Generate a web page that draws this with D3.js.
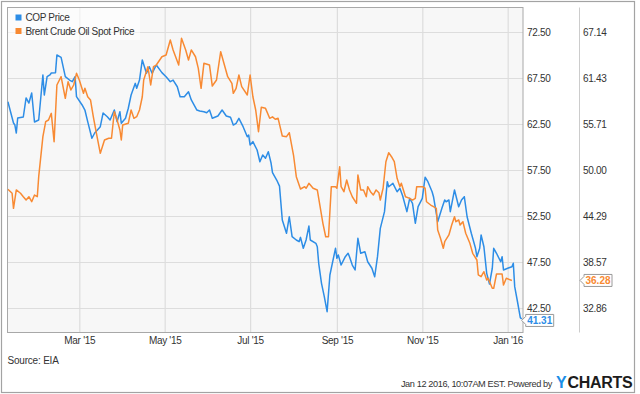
<!DOCTYPE html>
<html>
<head>
<meta charset="utf-8">
<script src="https://cdn.jsdelivr.net/npm/d3@7"></script>
<style>
  body { margin: 0; background: #fff; }
  svg { display: block; font-family: "Liberation Sans", Arial, sans-serif; }
</style>
</head>
<body>
<svg width="640" height="394"></svg>
<script>
// ConocoPhillips share price (left axis)
const copDates = [
  '2015-01-09','2015-01-13','2015-01-14','2015-01-15','2015-01-16','2015-01-20','2015-01-22','2015-01-24','2015-01-26','2015-01-28',
  '2015-01-31','2015-02-03','2015-02-04','2015-02-06','2015-02-08','2015-02-09','2015-02-12','2015-02-13','2015-02-16','2015-02-19',
  '2015-02-22','2015-02-24','2015-02-26','2015-02-27','2015-03-03','2015-03-05','2015-03-07','2015-03-10','2015-03-12','2015-03-16',
  '2015-03-18','2015-03-21','2015-03-23','2015-03-26','2015-03-28','2015-03-30','2015-03-31','2015-04-03','2015-04-05','2015-04-07',
  '2015-04-10','2015-04-11','2015-04-13','2015-04-15','2015-04-18','2015-04-20','2015-04-22','2015-04-25','2015-04-29','2015-05-02',
  '2015-05-05','2015-05-07','2015-05-10','2015-05-12','2015-05-15','2015-05-18','2015-05-20','2015-05-24','2015-05-26','2015-05-29',
  '2015-05-31','2015-06-02','2015-06-04','2015-06-08','2015-06-11','2015-06-14','2015-06-17','2015-06-19','2015-06-21','2015-06-23',
  '2015-06-26','2015-06-29','2015-06-30','2015-07-01','2015-07-03','2015-07-06','2015-07-08','2015-07-10','2015-07-12','2015-07-14',
  '2015-07-16','2015-07-17','2015-07-20','2015-07-22','2015-07-24','2015-07-27','2015-07-29','2015-07-31','2015-08-03','2015-08-05',
  '2015-08-06','2015-08-08','2015-08-10','2015-08-12','2015-08-13','2015-08-17','2015-08-18','2015-08-19','2015-08-21','2015-08-23',
  '2015-08-25','2015-08-27','2015-08-31','2015-09-01','2015-09-02','2015-09-04','2015-09-07','2015-09-09','2015-09-10','2015-09-12',
  '2015-09-14','2015-09-16','2015-09-18','2015-09-21','2015-09-23','2015-09-26','2015-09-28','2015-09-30','2015-10-02','2015-10-05',
  '2015-10-07','2015-10-08','2015-10-11','2015-10-14','2015-10-16','2015-10-18','2015-10-21','2015-10-23','2015-10-25','2015-10-27',
  '2015-10-29','2015-11-01','2015-11-03','2015-11-05','2015-11-08','2015-11-09','2015-11-12','2015-11-15','2015-11-17','2015-11-18',
  '2015-11-20','2015-11-21','2015-11-24','2015-11-27','2015-11-29','2015-12-01','2015-12-03','2015-12-06','2015-12-09','2015-12-10',
  '2015-12-12','2015-12-13','2015-12-15','2015-12-17','2015-12-19','2015-12-21','2015-12-22','2015-12-24','2015-12-27','2015-12-28',
  '2015-12-29','2016-01-01','2016-01-04','2016-01-05','2016-01-06','2016-01-08','2016-01-10','2016-01-11'
];
const copPrices = [
  64.92,62.61,62.39,61.52,63.15,63.26,65.33,64.78,65.87,62.72,
  62.93,67.83,65.65,67.64,67.83,68.04,68.08,70.00,69.75,67.64,
  67.28,67.10,67.64,65.47,64.57,64.02,62.75,60.95,61.52,62.21,
  63.70,63.29,62.93,64.02,62.75,63.84,62.58,63.12,64.21,65.65,
  66.92,66.38,67.28,69.46,68.01,68.73,68.01,68.91,68.08,67.64,
  67.10,67.28,66.55,65.47,65.47,66.01,65.11,64.02,63.91,63.84,
  63.73,64.02,63.12,63.37,64.02,63.37,63.23,62.39,62.58,63.12,
  62.21,61.12,61.30,60.22,60.58,59.67,58.40,59.13,58.77,59.49,
  58.23,57.21,56.41,55.75,52.07,50.62,52.42,50.25,49.89,49.71,
  50.18,48.99,49.89,51.41,49.89,49.53,49.16,47.36,45.18,43.73,
  42.10,46.09,48.99,47.90,48.26,47.17,48.08,48.45,48.08,47.17,
  46.63,50.08,48.45,48.62,47.53,46.82,45.90,48.08,51.16,52.97,
  56.23,55.68,56.05,55.14,55.51,54.67,52.97,54.42,53.88,51.71,
  53.51,54.42,56.71,56.23,55.14,54.60,51.88,53.34,54.24,54.05,
  54.24,52.97,55.33,53.51,54.24,54.60,52.42,50.62,48.99,48.08,
  48.99,50.43,49.16,46.27,45.11,46.82,48.99,48.45,47.53,48.08,
  46.63,46.82,46.99,47.36,44.82,43.18,41.45,41.31
];

// Brent crude spot price (right axis)
const brentDates = [
  '2015-01-09','2015-01-12','2015-01-13','2015-01-15','2015-01-18','2015-01-20','2015-01-22','2015-01-24','2015-01-26','2015-01-28',
  '2015-01-30','2015-01-31','2015-02-03','2015-02-05','2015-02-07','2015-02-09','2015-02-11','2015-02-13','2015-02-16','2015-02-19',
  '2015-02-21','2015-02-23','2015-02-25','2015-02-27','2015-03-01','2015-03-04','2015-03-05','2015-03-07','2015-03-09','2015-03-11',
  '2015-03-13','2015-03-16','2015-03-19','2015-03-22','2015-03-24','2015-03-26','2015-03-28','2015-03-30','2015-03-31','2015-04-01',
  '2015-04-05','2015-04-07','2015-04-09','2015-04-11','2015-04-13','2015-04-15','2015-04-16','2015-04-19','2015-04-21','2015-04-23',
  '2015-04-25','2015-04-29','2015-05-02','2015-05-05','2015-05-07','2015-05-11','2015-05-13','2015-05-16','2015-05-18','2015-05-20',
  '2015-05-23','2015-05-25','2015-05-27','2015-05-29','2015-06-02','2015-06-04','2015-06-07','2015-06-10','2015-06-12','2015-06-15',
  '2015-06-18','2015-06-19','2015-06-21','2015-06-23','2015-06-25','2015-06-29','2015-07-01','2015-07-03','2015-07-05','2015-07-07',
  '2015-07-09','2015-07-12','2015-07-15','2015-07-17','2015-07-19','2015-07-21','2015-07-24','2015-07-27','2015-07-29','2015-08-01',
  '2015-08-03','2015-08-06','2015-08-09','2015-08-10','2015-08-12','2015-08-15','2015-08-18','2015-08-20','2015-08-22','2015-08-24',
  '2015-08-26','2015-08-28','2015-08-31','2015-09-01','2015-09-03','2015-09-04','2015-09-06','2015-09-08','2015-09-10','2015-09-12',
  '2015-09-15','2015-09-16','2015-09-18','2015-09-20','2015-09-22','2015-09-23','2015-09-25','2015-09-27','2015-09-29','2015-10-01',
  '2015-10-02','2015-10-04','2015-10-06','2015-10-08','2015-10-10','2015-10-12','2015-10-14','2015-10-16','2015-10-17','2015-10-20',
  '2015-10-23','2015-10-25','2015-10-27','2015-10-28','2015-11-01','2015-11-03','2015-11-04','2015-11-07','2015-11-09','2015-11-11',
  '2015-11-12','2015-11-14','2015-11-16','2015-11-17','2015-11-20','2015-11-22','2015-11-24','2015-11-25','2015-11-27','2015-11-28',
  '2015-11-30','2015-12-02','2015-12-05','2015-12-07','2015-12-10','2015-12-11','2015-12-13','2015-12-15','2015-12-17','2015-12-18',
  '2015-12-21','2015-12-22','2015-12-24','2015-12-28','2015-12-29','2015-12-31','2016-01-04'
];
const brentPrices = [
  47.60,47.11,45.24,47.52,47.11,46.68,46.27,46.68,46.06,46.89,
  46.68,49.17,54.14,56.00,56.21,57.04,53.52,60.56,61.59,58.91,
  60.97,59.94,60.56,62.01,61.18,59.53,60.15,59.10,58.70,56.62,
  54.76,52.07,53.73,53.94,53.94,57.24,56.21,54.97,53.73,55.59,
  55.80,57.45,56.42,56.62,57.45,59.10,61.18,62.83,60.56,62.83,
  63.04,64.07,64.28,66.15,64.91,63.04,66.36,64.91,63.66,64.91,
  64.07,62.63,60.15,63.25,63.04,60.43,61.18,64.70,63.45,61.59,
  60.77,59.53,60.15,61.80,60.35,59.32,61.80,59.10,57.45,54.76,
  57.79,57.66,56.42,56.60,56.30,56.42,54.22,54.14,54.63,51.86,
  49.17,47.64,47.93,47.73,48.35,47.73,47.52,45.44,43.38,41.71,
  41.71,47.93,47.93,47.73,50.41,47.93,47.30,48.76,47.52,46.68,
  45.86,49.38,47.52,47.52,46.68,47.93,47.30,46.89,47.52,47.18,
  46.27,47.73,51.03,52.15,51.65,51.03,48.97,47.93,48.35,46.68,
  46.48,46.27,46.48,47.93,47.93,47.73,46.06,45.65,45.44,45.24,
  42.55,41.52,40.27,41.09,41.93,43.17,44.20,43.58,43.79,43.17,
  43.58,42.14,40.89,39.65,38.82,36.96,36.75,37.37,36.34,36.55,
  35.30,35.30,37.08,37.08,35.71,36.55,36.28
];

const seriesNames = ['COP Price', 'Brent Crude Oil Spot Price'];
const leftTicks = [42.5, 47.5, 52.5, 57.5, 62.5, 67.5, 72.5];
const monthTicks = ['2015-03-01', '2015-05-01', '2015-07-01', '2015-09-01', '2015-11-01', '2016-01-01'];
const dateRange = ['2015-01-09', '2016-01-12'];
const rightRange = [32.857, 67.143];

const blue = '#2d8de6';
const orange = '#f88a33';
const textColor = '#333';

const parse = d3.timeParse('%Y-%m-%d');
const cop = copDates.map((d, i) => ({ date: parse(d), value: copPrices[i] }));
const brent = brentDates.map((d, i) => ({ date: parse(d), value: brentPrices[i] }));

const plot = { left: 7.5, right: 523, top: 7.5, bottom: 332.5 };

const x = d3.scaleTime().domain(dateRange.map(parse)).range([7.9, 523.1]);
const yL = d3.scaleLinear().domain([42.5, 72.5]).range([308, 32]);
const yR = d3.scaleLinear().domain(rightRange).range([308, 32]);

const svg = d3.select('svg');

// outer frame
svg.append('rect')
  .attr('x', 1.5).attr('y', 1.5).attr('width', 633).attr('height', 391)
  .attr('fill', '#fff').attr('stroke', '#a3a3a3').attr('stroke-width', 1.2);

// plot background
svg.append('rect')
  .attr('x', plot.left).attr('y', plot.top)
  .attr('width', plot.right - plot.left).attr('height', plot.bottom - plot.top)
  .attr('fill', '#f7f7f7');

// horizontal grid
svg.append('g')
  .attr('transform', `translate(${plot.left},0)`)
  .call(d3.axisRight(yL).tickValues(leftTicks).tickSize(plot.right - plot.left).tickFormat(''))
  .call(g => g.select('.domain').remove())
  .call(g => g.selectAll('line').attr('stroke', '#dddddd').attr('stroke-width', 1.2));

// vertical grid
svg.append('g')
  .attr('transform', `translate(0,${plot.bottom})`)
  .call(d3.axisBottom(x).tickValues(monthTicks.map(parse)).tickSize(-(plot.bottom - plot.top)).tickFormat(''))
  .call(g => g.select('.domain').remove())
  .call(g => g.selectAll('line').attr('stroke', '#dddddd').attr('stroke-width', 1.2));

// plot border
svg.append('rect')
  .attr('x', plot.left).attr('y', plot.top)
  .attr('width', plot.right - plot.left).attr('height', plot.bottom - plot.top)
  .attr('fill', 'none').attr('stroke', '#a8a8a8').attr('stroke-width', 1);

// separator between the two right axes
svg.append('line')
  .attr('x1', 579.5).attr('x2', 579.5).attr('y1', plot.top).attr('y2', plot.bottom)
  .attr('stroke', '#cccccc');

// x axis labels
svg.append('g')
  .attr('transform', `translate(0,${plot.bottom})`)
  .call(d3.axisBottom(x).tickValues(monthTicks.map(parse)).tickSize(0).tickPadding(4)
    .tickFormat(d3.timeFormat("%b '%y")))
  .call(g => g.select('.domain').remove())
  .call(g => g.selectAll('text')
    .attr('fill', textColor).attr('font-size', 10).attr('letter-spacing', -0.3)
    .attr('font-family', '"Liberation Sans", Arial, sans-serif'));

// left price axis (COP), drawn to the right of the plot
svg.append('g')
  .attr('transform', 'translate(527,0)')
  .call(d3.axisRight(yL).tickValues(leftTicks).tickSize(0).tickPadding(0).tickFormat(d3.format('.2f')))
  .call(g => g.select('.domain').remove())
  .call(g => g.selectAll('text')
    .attr('fill', textColor).attr('font-size', 10).attr('letter-spacing', -0.3)
    .attr('font-family', '"Liberation Sans", Arial, sans-serif'));

// right price axis (Brent)
svg.append('g')
  .attr('transform', 'translate(583,0)')
  .call(d3.axisRight(yR).tickValues(leftTicks.map(t => yR.invert(yL(t))))
    .tickSize(0).tickPadding(0).tickFormat(d3.format('.2f')))
  .call(g => g.select('.domain').remove())
  .call(g => g.selectAll('text')
    .attr('fill', textColor).attr('font-size', 10).attr('letter-spacing', -0.3)
    .attr('font-family', '"Liberation Sans", Arial, sans-serif'));

// lines
svg.append('clipPath').attr('id', 'clip')
  .append('rect')
  .attr('x', plot.left).attr('y', plot.top)
  .attr('width', plot.right - plot.left).attr('height', plot.bottom - plot.top);

const lineL = d3.line().x(d => x(d.date)).y(d => yL(d.value));
const lineR = d3.line().x(d => x(d.date)).y(d => yR(d.value));

svg.append('path').datum(cop)
  .attr('clip-path', 'url(#clip)')
  .attr('d', lineL).attr('fill', 'none')
  .attr('stroke', blue).attr('stroke-width', 1.5).attr('stroke-linejoin', 'round');

svg.append('path').datum(brent)
  .attr('clip-path', 'url(#clip)')
  .attr('d', lineR).attr('fill', 'none')
  .attr('stroke', orange).attr('stroke-width', 1.5).attr('stroke-linejoin', 'round');

// legend
svg.append('rect')
  .attr('x', 8).attr('y', 8).attr('width', 132).attr('height', 32)
  .attr('fill', '#fff').attr('fill-opacity', 0.6);

const legend = svg.append('g').selectAll('g')
  .data(seriesNames)
  .enter()
  .append('g')
  .attr('transform', (d, i) => `translate(15.5,${14.5 + i * 13.5})`);

legend.append('rect')
  .attr('width', 6).attr('height', 6)
  .attr('fill', (d, i) => i === 0 ? blue : orange);

legend.append('text')
  .attr('x', 10).attr('y', 6.5)
  .attr('font-size', 10).attr('letter-spacing', -0.35).attr('fill', textColor)
  .text(d => d);

// last value tags
function valueTag(tipX, tipY, value, color) {
  const g = svg.append('g').attr('transform', `translate(${tipX},${tipY})`);
  g.append('path')
    .attr('d', 'M0,0 L4,-4 L4,-6 L32,-6 L32,6 L4,6 L4,4 Z')
    .attr('fill', '#fff').attr('stroke', '#9a9a9a').attr('stroke-width', 1);
  g.append('text')
    .attr('x', 18).attr('y', 3.6)
    .attr('text-anchor', 'middle')
    .attr('font-size', 10).attr('font-weight', 'bold').attr('fill', color)
    .text(d3.format('.2f')(value));
}

const lastCop = cop[cop.length - 1];
const lastBrent = brent[brent.length - 1];
valueTag(x(lastCop.date), yL(lastCop.value) + 1.5, lastCop.value, blue);
valueTag(580, yR(lastBrent.value), lastBrent.value, orange);

// footer
svg.append('text')
  .attr('x', 7.5).attr('y', 364)
  .attr('font-size', 10).attr('letter-spacing', -0.2).attr('fill', textColor)
  .text('Source: EIA');

svg.append('text')
  .attr('x', 552).attr('y', 387)
  .attr('text-anchor', 'end')
  .attr('font-size', 9.2).attr('letter-spacing', -0.4).attr('fill', textColor)
  .text('Jan 12 2016, 10:07AM EST.  Powered by');

// YCHARTS logo: blue Y followed by dark letters
svg.append('text')
  .attr('x', 556).attr('y', 387.5)
  .attr('font-size', 16).attr('font-weight', 'bold').attr('fill', '#1a8ee6')
  .text('Y');
svg.append('text')
  .attr('x', 567.5).attr('y', 387.5)
  .attr('font-size', 16).attr('font-weight', 'bold').attr('letter-spacing', -0.3).attr('fill', '#1c1c1c')
  .text('CHARTS');
</script>
</body>
</html>
